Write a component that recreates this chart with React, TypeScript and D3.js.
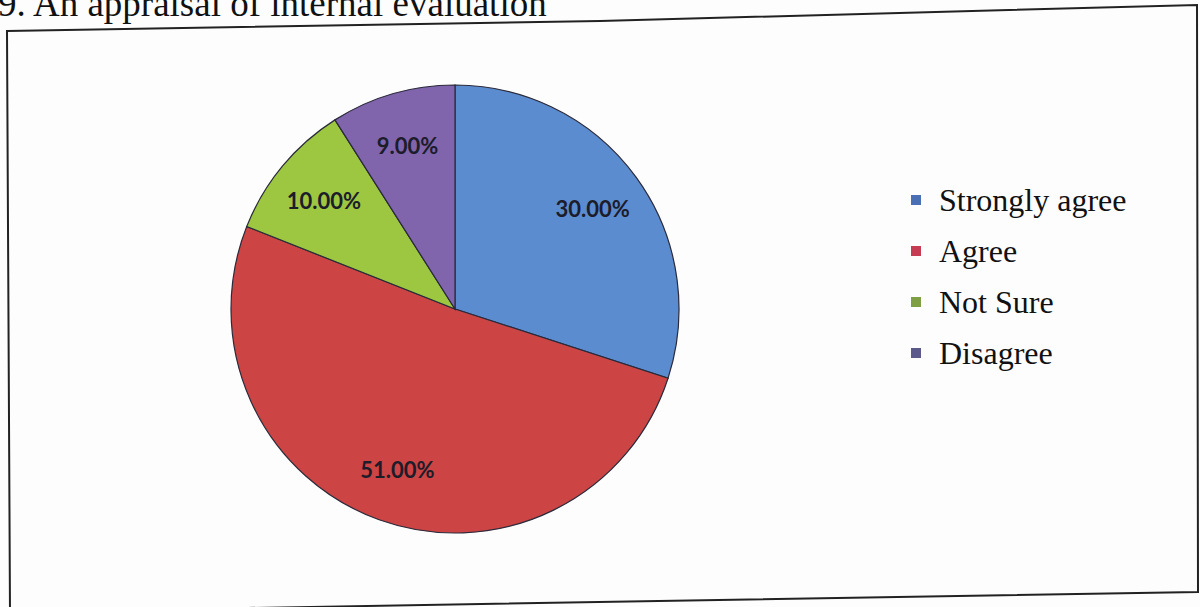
import React from 'react';
import * as d3 from 'd3';

const categories = ['Strongly agree', 'Agree', 'Not Sure', 'Disagree'];
const values = [30, 51, 10, 9];
const labels = ['30.00%', '51.00%', '10.00%', '9.00%'];
const colors = ['#5b8cd0', '#cc4544', '#9dc741', '#8065ad'];
const legendColors = ['#4a6fb5', '#c63c52', '#7f9f45', '#5c5a8a'];

const width = 1200;
const height = 607;

export default function App() {
  const cx = 455;
  const cy = 309;
  const radius = 224;

  const pie = d3
    .pie<number>()
    .sort(null)
    .value((d) => d);
  const arcs = pie(values);

  const arc = d3.arc<d3.PieArcDatum<number>>().innerRadius(0).outerRadius(radius);
  const labelArc = d3
    .arc<d3.PieArcDatum<number>>()
    .innerRadius(radius * 0.76)
    .outerRadius(radius * 0.76);

  const legendY = d3
    .scalePoint<string>()
    .domain(categories)
    .range([200, 353]);

  return (
    <svg
      width={width}
      height={height}
      style={{ position: 'fixed', left: 0, top: 0, background: '#fdfdfd' }}
    >
      {/* title, partly cut off at the top as in the photo */}
      <text
        x={-2}
        y={16}
        fontFamily="'Liberation Serif', 'Times New Roman', serif"
        fontSize={37}
        fill="#111"
      >
        9. An appraisal of internal evaluation
      </text>

      {/* chart frame (photographed, slightly skewed) */}
      <path
        d="M7,31 L600,21 L1197,5 L1198,592 L10,612 Z"
        fill="none"
        stroke="#222"
        strokeWidth={2}
      />

      <g transform={`translate(${cx},${cy})`}>
        {arcs.map((a, i) => (
          <path key={i} d={arc(a) || ''} fill={colors[i]} stroke="#2a2a3a" strokeWidth={1.2} />
        ))}
        {arcs.map((a, i) => {
          const [lx, ly] = labelArc.centroid(a);
          return (
            <text
              key={'l' + i}
              x={lx}
              y={ly}
              textAnchor="middle"
              dominantBaseline="central"
              fontFamily="Lato, 'Open Sans', sans-serif"
              fontWeight={700}
              fontSize={22}
              fill="#1c1c2a"
            >
              {labels[i]}
            </text>
          );
        })}
      </g>

      <g>
        {categories.map((c, i) => (
          <g key={c} transform={`translate(911,${legendY(c)})`}>
            <rect x={0} y={-5} width={10} height={10} fill={legendColors[i]} />
            <text
              x={28}
              y={0}
              dominantBaseline="central"
              fontFamily="'Liberation Serif', 'Times New Roman', serif"
              fontSize={32}
              fill="#111"
            >
              {c}
            </text>
          </g>
        ))}
      </g>
    </svg>
  );
}
